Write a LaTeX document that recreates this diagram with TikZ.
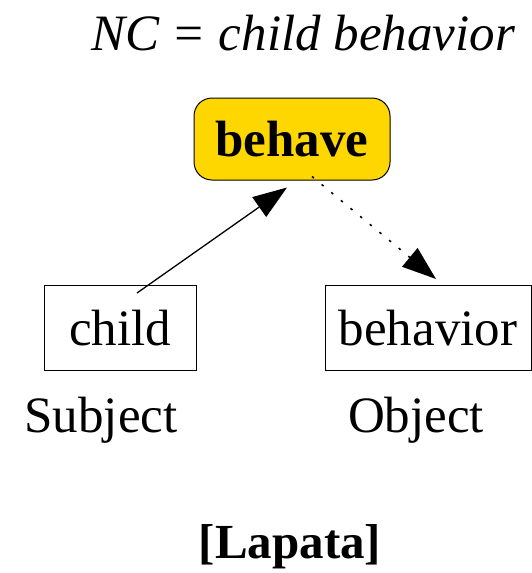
\documentclass[tikz,border=0pt]{standalone}
\usepackage{fontspec}
\setmainfont{LiberationSerif}[Extension=.ttf,UprightFont=*-Regular,ItalicFont=*-Italic,BoldFont=*-Bold]
\usetikzlibrary{arrows.meta}
\definecolor{gold}{HTML}{FFD700}
\tikzset{
  wordbox/.style={draw,line width=1pt,inner sep=0pt},
  verbbox/.style={wordbox,fill=gold,rounded corners=18pt},
  bigtext/.style={font=\fontsize{51}{60}\selectfont},
  arr/.style={line width=1.3pt,-{Triangle[length=34pt,width=24pt]}}
}
\begin{document}
\begin{tikzpicture}[x=1pt,y=-1pt]
  \useasboundingbox (0,0) rectangle (531,573);
  \node[font=\fontsize{51}{60}\selectfont\itshape] (title) at (303,33)
    {NC = child behavior};
  \node[verbbox,minimum width=196pt,minimum height=82pt] (behave) at (292,139)
    {\fontsize{51}{60}\selectfont\bfseries behave};
  \node[wordbox,minimum width=152pt,minimum height=85pt] (child) at (120,328)
    {\fontsize{51}{60}\selectfont child};
  \node[wordbox,minimum width=206pt,minimum height=85pt] (behavior) at (428,328)
    {\fontsize{51}{60}\selectfont behavior};
  \node[bigtext] (subj) at (101,420) {Subject};
  \node[bigtext] (obj) at (416,420) {Object};
  \node[font=\fontsize{49}{60}\selectfont\bfseries] (cite) at (290,547) {[Lapata]};
  \draw[arr] ([shift={(17,8)}]child.north) -- ([shift={(-5,7)}]behave.south);
  \draw[arr,line width=1.6pt,dash pattern=on 2.5pt off 10pt]
    ([shift={(20,-4)}]behave.south) -- ([shift={(8,-6)}]behavior.north);
\end{tikzpicture}
\end{document}
